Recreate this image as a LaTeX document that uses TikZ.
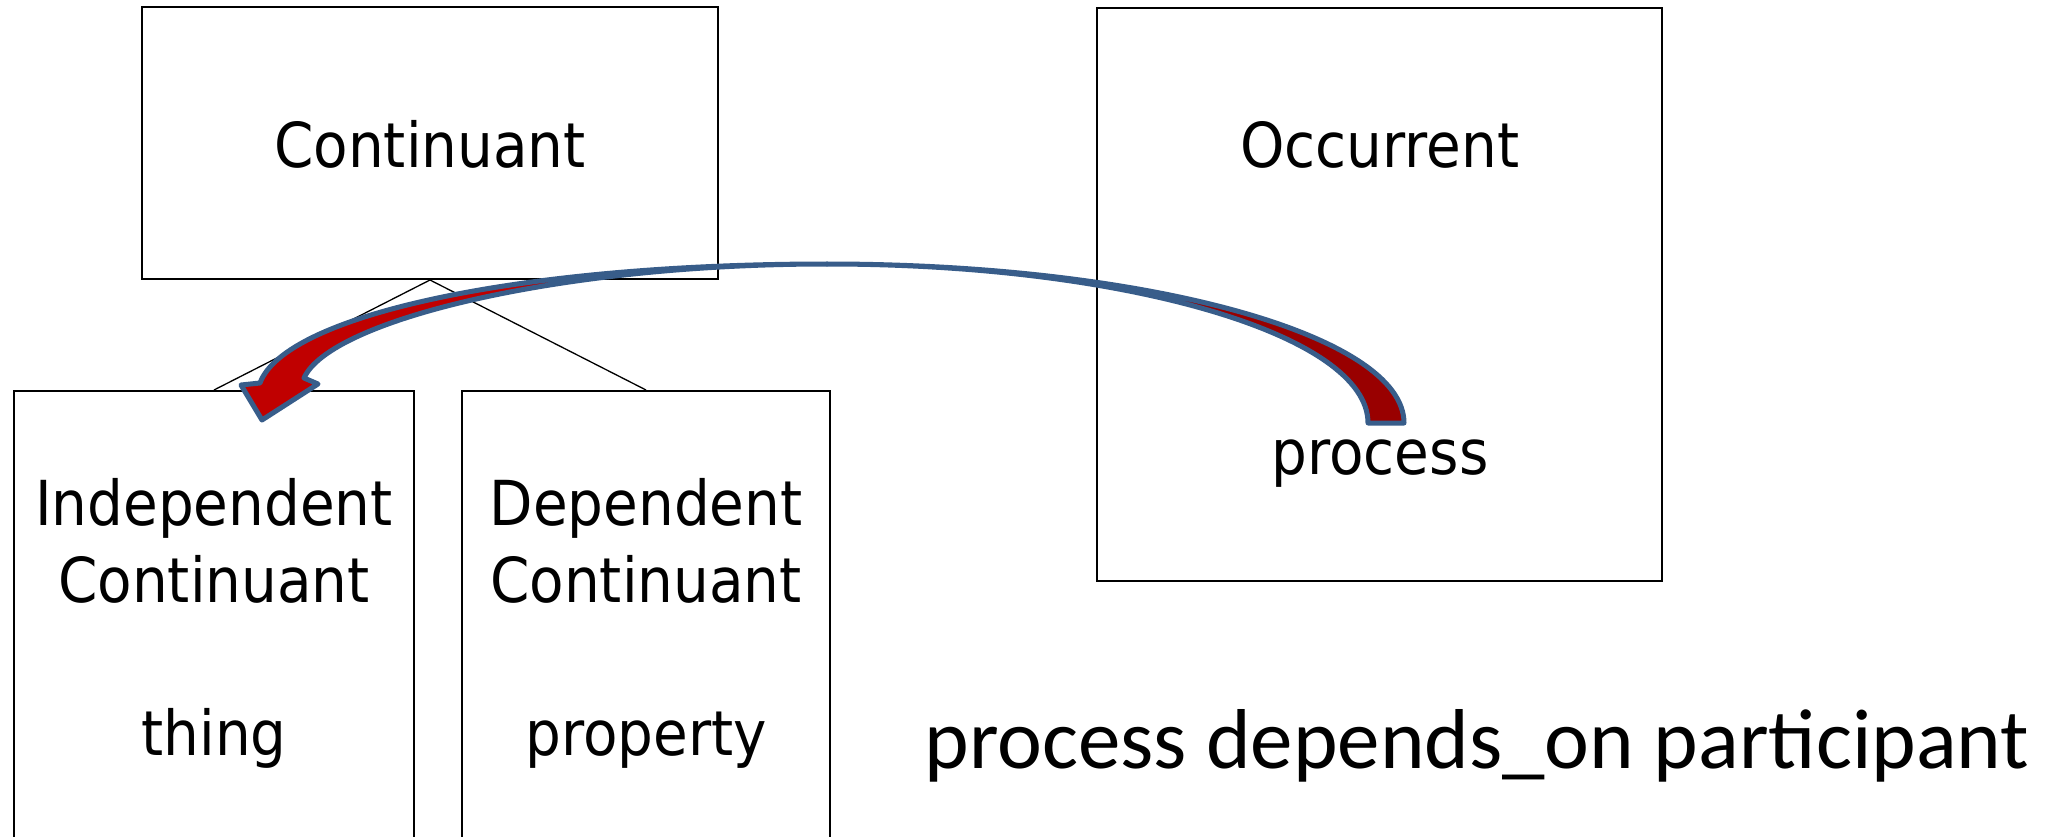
\documentclass[tikz,border=0pt]{standalone}
\usepackage{fontspec}
\newfontfamily\boxfont[FakeStretch=0.91]{DejaVu Sans}
\newfontfamily\notefont{Carlito}
\definecolor{arrowline}{HTML}{385D8A}
\definecolor{backred}{HTML}{990000}
\definecolor{frontred}{HTML}{C00000}

\begin{document}
\begin{tikzpicture}[x=1pt,y=-1pt,
  catbox/.style={draw=black,line width=2pt,inner sep=0pt},
  lbl/.style={font=\boxfont\fontsize{62}{74}\selectfont,inner sep=0pt,anchor=base},
  branch/.style={draw=black,line width=1.3pt},
  blockarrow/.style={draw=arrowline,line width=5pt,line join=round}]
\clip (0,0) rectangle (2062,837);
\fill[white] (0,0) rectangle (2062,837);

% category boxes
\node[catbox,minimum width=576pt,minimum height=272pt] (cont) at (430,143) {};
\node[catbox,minimum width=565pt,minimum height=573pt] (occ) at (1379.5,294.5) {};
\node[catbox,minimum width=400pt,minimum height=546pt] (indep) at (214,664) {};
\node[catbox,minimum width=368pt,minimum height=546pt] (dep) at (646,664) {};

% box labels
\node[lbl] (contname) at (430,168) {Continuant};
\node[lbl] (occname) at (1380,168) {Occurrent};
\node[lbl] (procname) at (1380,474) {process};
\node[lbl] (indepa) at (214,525) {Independent};
\node[lbl] (indepb) at (214,602) {Continuant};
\node[lbl] (thing) at (214,755) {thing};
\node[lbl] (depa) at (646,525) {Dependent};
\node[lbl] (depb) at (646,602) {Continuant};
\node[lbl] (prop) at (646,755) {property};

% subtype branches
\draw[branch] (cont.south) -- (indep.north);
\draw[branch] (cont.south) -- (dep.north);

% curved block arrow from process to thing: back face, then front face with head
\coordinate (apex) at (827,264);
\filldraw[blockarrow,fill=backred] (1404,423) .. controls (1404,335) and (1146,264) .. (apex)
  .. controls (1126,264) and (1368,335) .. (1368,423) -- cycle;
\filldraw[blockarrow,fill=frontred] (apex) .. controls (520,264) and (285,315) .. (260,383)
  -- (241,385) -- (262,420) -- (318,384) -- (304,378)
  .. controls (330,320) and (560,264) .. (apex) -- cycle;

% statement
\node[font=\notefont\fontsize{85}{100}\selectfont,inner sep=0pt,anchor=base] (note)
  at (1477,768) {process depends\_on participant};
\end{tikzpicture}
\end{document}
